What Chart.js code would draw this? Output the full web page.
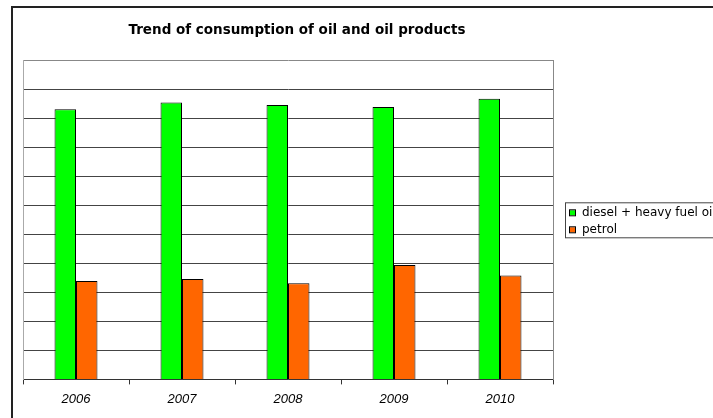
<!DOCTYPE html>
<html>
<head>
<meta charset="utf-8">
<script src="https://cdn.jsdelivr.net/npm/chart.js@4/dist/chart.umd.min.js"></script>
<style>
  html, body { margin: 0; padding: 0; background: #fff; overflow: hidden; }
  #frame { position: absolute; left: 11px; top: 6px; width: 800px; height: 500px; border: 2px solid #222; }
  #wrap { position: absolute; left: 0; top: 0; width: 713px; height: 418px; }
</style>
</head>
<body>
<div id="frame"></div>
<div id="wrap"><canvas id="oil"></canvas></div>
<script>
// years on the x axis
var years = ["2006", "2007", "2008", "2009", "2010"];
// in gridline units (no y labels in the original)
var diesel = [9.31, 9.54, 9.46, 9.39, 9.67];
var petrol = [3.39, 3.46, 3.31, 3.94, 3.58];
var seriesNames = ["diesel + heavy fuel oil", "petrol"];
var seriesColors = ["#00FF00", "#FF6600"];

// boxed legend to the right of the plot, like the spreadsheet one
var legendBox = {
    id: 'legendBox',
    afterDraw: function (chart) {
        var ctx = chart.ctx, area = chart.chartArea;
        var x = area.right + 12;
        var top = (area.top + area.bottom) / 2 - 17.5;
        ctx.save();
        ctx.fillStyle = '#fff';
        ctx.fillRect(x, top, 300, 35);
        ctx.strokeStyle = '#444';
        ctx.lineWidth = 1;
        ctx.strokeRect(x + 0.5, top + 0.5, 300, 35);
        ctx.font = '12px "DejaVu Sans"';
        ctx.textBaseline = 'middle';
        chart.data.datasets.forEach(function (ds, i) {
            var cy = top + 10 + i * 17;
            ctx.fillStyle = ds.backgroundColor;
            ctx.fillRect(x + 5, cy - 2, 5, 5);
            ctx.strokeStyle = '#000';
            ctx.strokeRect(x + 4.5, cy - 2.5, 6, 6);
            ctx.fillStyle = '#000';
            ctx.fillText(ds.label, x + 17, cy + 1);
        });
        ctx.restore();
    }
};

var ctx = document.getElementById("oil").getContext('2d');
var oilChart = new Chart(ctx, {
    type: 'bar',
    data: {
        labels: years,
        datasets: [{
            label: seriesNames[0],
            data: diesel,
            backgroundColor: seriesColors[0],
            borderColor: '#000',
            borderWidth: 1
        }, {
            label: seriesNames[1],
            data: petrol,
            backgroundColor: seriesColors[1],
            borderColor: '#000',
            borderWidth: 1
        }]
    },
    options: {
        responsive: true,
        maintainAspectRatio: false,
        animation: false,
        categoryPercentage: 0.405,
        barPercentage: 1,
        layout: { padding: { left: 23, right: 142, top: 0, bottom: 4 } },
        plugins: {
            legend: { display: false },
            tooltip: { enabled: false },
            title: {
                display: true,
                fullSize: true,
                text: 'Trend of consumption of oil and oil products',
                color: '#000',
                font: { family: '"DejaVu Sans"', size: 13.5, weight: 'bold' },
                padding: { top: 22, bottom: 22 }
            }
        },
        scales: {
            x: {
                grid: { drawOnChartArea: false, drawTicks: true, tickLength: 5, color: '#333' },
                border: { color: '#333', width: 1 },
                ticks: {
                    color: '#000',
                    padding: 7,
                    font: { family: '"Liberation Sans", Arial', size: 13, style: 'italic' }
                }
            },
            y: {
                min: 0,
                max: 11,
                ticks: { display: false, stepSize: 1 },
                grid: {
                    drawTicks: false,
                    color: function (c) { return c.tick && c.tick.value === 11 ? '#888' : '#444'; }
                },
                border: { color: '#aaa', width: 1 }
            },
            // right edge of the plot frame; its width also leaves room before the legend
            y2: {
                position: 'right',
                min: 0,
                max: 11,
                ticks: { display: false },
                grid: { display: false, drawTicks: false },
                border: { color: '#888', width: 1 },
                afterFit: function (scale) { scale.width = 18; }
            }
        }
    },
    plugins: [legendBox]
});
</script>
</body>
</html>
